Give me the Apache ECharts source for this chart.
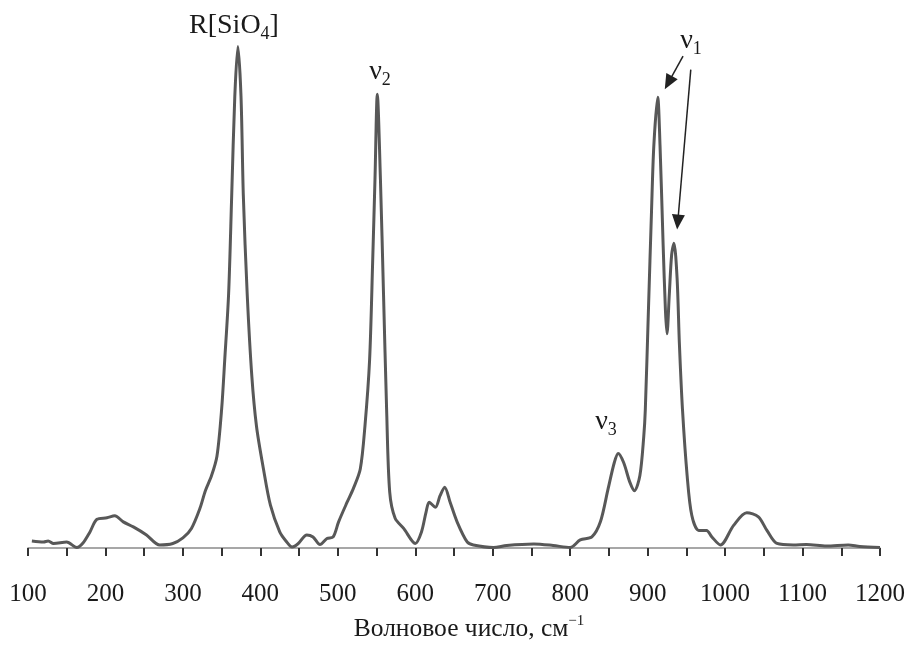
<!DOCTYPE html>
<html>
<head>
<meta charset="utf-8">
<script src="https://cdn.jsdelivr.net/npm/echarts@6/dist/echarts.min.js"></script>
<style>html,body{margin:0;padding:0;background:#fff}#c{width:913px;height:647px}</style>
</head>
<body>
<div id="c"></div>
<script>
// Raman spectrum: wavenumber (cm^-1) and relative intensity
const wavenumber = [105,120,126,133,150,163,171,180,189,202,212,223,236,253,270,287,300,311,322,329,337,344,350,354,359,363,367,371,375,378,383,389,395,404,413,425,433,441,449,460,468,477,486,494,501,512,520,529,535,541,545,548,551,555,559,563,567,574,585,600,608,614,618,626,632,638,645,654,667,675,701,718,753,778,800,813,828,839,849,857,862,869,877,883,890,895,897,901,905,908,913,916,920,923,925,928,931,934,938,941,945,951,957,966,976,983,994,1011,1028,1043,1054,1067,1088,1105,1131,1159,1174,1200];
const intensity = [1.4,1.2,1.4,0.9,1.2,0.1,1.0,3.2,5.7,6.0,6.4,5.2,4.2,2.6,0.6,0.9,2.0,3.9,7.9,11.4,14.4,18.3,27.6,37.4,50.5,70.1,89.8,99.7,89.8,70.1,50.5,34.1,24.2,15.7,8.5,3.2,1.4,0.2,0.9,2.6,2.2,0.7,1.9,2.2,5.2,9.1,11.8,15.7,24.2,37.3,57.0,73.4,90.2,73.4,50.5,27.6,11.1,5.9,3.9,0.9,3.2,7.2,9.1,8.1,10.4,12.1,9.1,5.2,1.2,0.6,0.1,0.5,0.8,0.5,0.1,1.6,2.2,5.2,11.8,17.0,18.8,17.0,13.1,11.4,14.4,22.2,27.5,47.2,66.9,80.0,89.6,80.0,60.3,47.2,42.6,50.5,58.3,60.6,53.7,40.6,27.5,14.4,6.5,3.5,3.5,2.2,0.6,4.5,7.0,6.2,3.5,0.9,0.6,0.7,0.4,0.6,0.3,0.1];
// arrows pointing to the two nu1 components: [start, end] in data units
const arrowNu1a = [[945.7, 97.8], [926.8, 92.5]];
const arrowNu1b = [[955.7, 95.1], [938.9, 64.8]];
const xTicks = {min: 100, max: 1200, interval: 100};
const xName = 'Волновое число, см';

const serif = '"Liberation Serif", "Times New Roman", serif';
const chart = echarts.init(document.getElementById('c'), null, {renderer: 'canvas'});
const data = wavenumber.map((w, i) => [w, intensity[i]]);

function label(x, y, main, sub, size) {
  return {
    type: 'text', x: x, y: y, silent: true,
    style: {
      text: '{a|' + main + '}{s|' + sub + '}' + (main.startsWith('R') ? '{a|]}' : ''),
      align: 'center', verticalAlign: 'middle',
      fill: '#1a1a1a',
      rich: {
        a: {fontFamily: serif, fontSize: size, lineHeight: 34, fill: '#1a1a1a'},
        s: {fontFamily: serif, fontSize: 18, lineHeight: 14, verticalAlign: 'bottom', fill: '#1a1a1a'}
      }
    }
  };
}

chart.setOption({
  animation: false,
  backgroundColor: '#fff',
  grid: {left: 28, right: 33, top: 45, bottom: 94, containLabel: false},
  xAxis: {
    type: 'value', min: xTicks.min, max: xTicks.max, interval: xTicks.interval,
    name: '{a|' + xName + '}{s|−1}',
    nameLocation: 'middle', nameGap: 66,
    nameTextStyle: {
      padding: [0, 0, 0, 30],
      rich: {
        a: {fontFamily: serif, fontSize: 25.5, color: '#1a1a1a', lineHeight: 30},
        s: {fontFamily: serif, fontSize: 15, color: '#1a1a1a', lineHeight: 19, verticalAlign: 'top'}
      }
    },
    axisLine: {show: true, onZero: false, lineStyle: {color: '#8a8a8a', width: 1.5}},
    axisTick: {show: true, inside: false, length: 8, lineStyle: {color: '#333', width: 2}},
    minorTick: {show: true, splitNumber: 2, length: 8, lineStyle: {color: '#333', width: 2}},
    axisLabel: {fontFamily: serif, fontSize: 25, color: '#1a1a1a', margin: 34, formatter: v => String(v)},
    splitLine: {show: false}
  },
  yAxis: {type: 'value', min: 0, max: 100, show: false},
  graphic: [
    label(234, 26, 'R[SiO', '4', 28),
    label(380, 72, 'ν', '2', 28),
    label(691, 41, 'ν', '1', 28),
    label(606, 422, 'ν', '3', 28)
  ],
  series: [{
    type: 'line', data: data, showSymbol: false, smooth: 0.3,
    lineStyle: {color: '#585858', width: 3},
    silent: true,
    markLine: {
      silent: true, animation: false,
      symbol: ['none', 'triangle'], symbolSize: [13, 15],
      label: {show: false},
      lineStyle: {color: '#222', width: 1.5, type: 'solid'},
      data: [
        [{coord: arrowNu1a[0]}, {coord: arrowNu1a[1]}],
        [{coord: arrowNu1b[0]}, {coord: arrowNu1b[1]}]
      ]
    }
  }]
});
</script>
</body>
</html>
